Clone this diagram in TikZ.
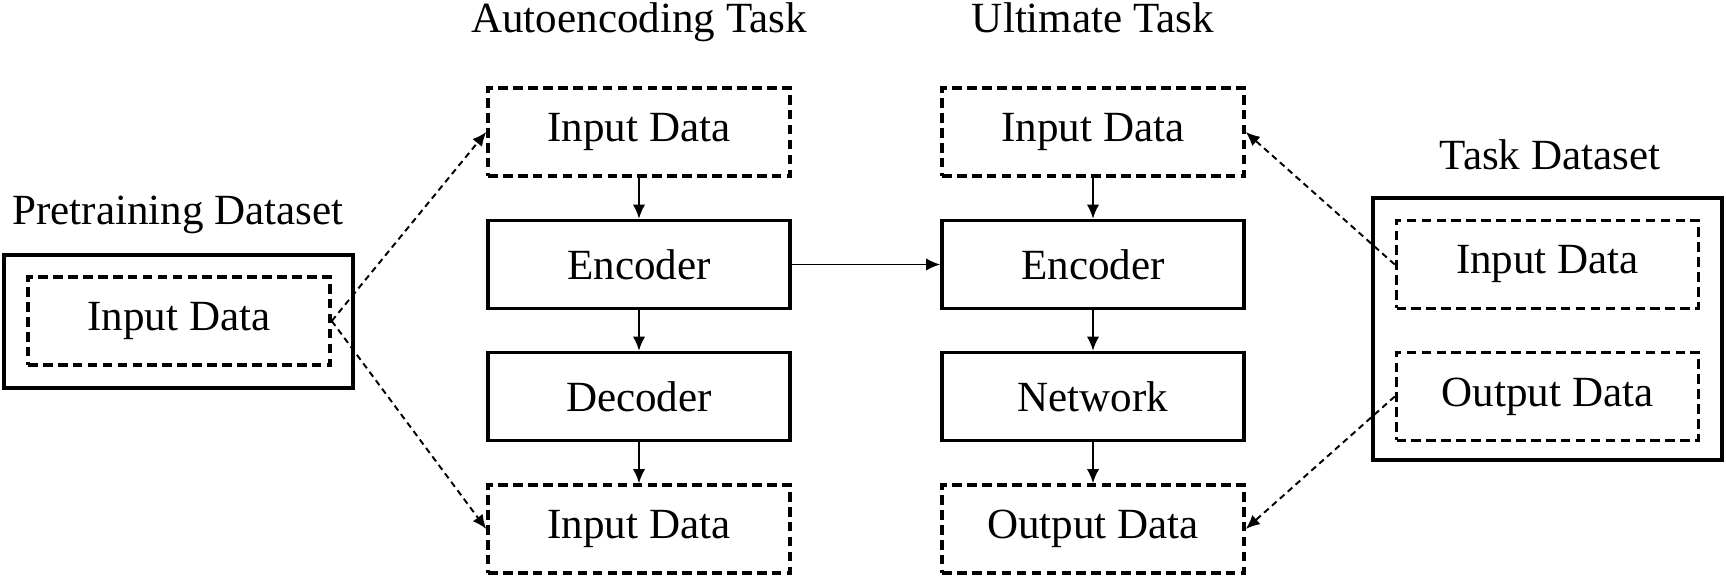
\documentclass[tikz,border=0pt]{standalone}
\usepackage{fontspec}
\setmainfont{Liberation Serif}
\usetikzlibrary{arrows.meta}
\begin{document}
\begin{tikzpicture}[
  font=\fontsize{24.5}{29}\selectfont,
  solidbox/.style={draw,line width=2pt,minimum width=6.04cm,minimum height=1.76cm,inner sep=0},
  dashbox/.style={solidbox,dash pattern=on 5.5pt off 3pt},
  flow/.style={line width=1.1pt,-{Latex[length=8pt,width=7pt]}},
  link/.style={flow,dash pattern=on 3.5pt off 2.5pt}]
  \useasboundingbox (0,0) rectangle (34.52cm, 11.56cm);

  % titles
  \node at(3.56cm, 7.06cm) [anchor=base](pretitle){Pretraining Dataset};
  \node at(12.78cm, 10.9cm) [anchor=base](autotitle){Autoencoding Task};
  \node at(21.86cm, 10.9cm) [anchor=base](ulttitle){Ultimate Task};
  \node at(31cm, 8.16cm) [anchor=base](tasktitle){Task Dataset};

  % pretraining dataset
  \node at(3.57cm, 5.13cm) [draw,line width=2pt,minimum width=6.98cm,minimum height=2.66cm](preset){};
  \node at(3.58cm, 5.14cm) [dashbox](preinput){Input Data};

  % autoencoding task
  \node at(12.78cm, 8.92cm) [dashbox](autoin){Input Data};
  \node at(12.78cm, 6.27cm) [solidbox](autoenc){Encoder};
  \node at(12.78cm, 3.63cm) [solidbox](autodec){Decoder};
  \node at(12.78cm, .98cm) [dashbox](autoout){Input Data};

  % ultimate task
  \node at(21.86cm, 8.92cm) [dashbox](ultin){Input Data};
  \node at(21.86cm, 6.27cm) [solidbox](ultenc){Encoder};
  \node at(21.86cm, 3.63cm) [solidbox](ultnet){Network};
  \node at(21.86cm, .98cm) [dashbox](ultout){Output Data};

  % task dataset
  \node at(30.95cm, 4.98cm) [draw,line width=2pt,minimum width=6.98cm,minimum height=5.24cm](taskset){};
  \node at(30.95cm, 6.27cm) [dashbox](taskin){Input Data};
  \node at(30.95cm, 3.63cm) [dashbox](taskout){Output Data};

  \draw[flow] (autoin) -- (autoenc);
  \draw[flow] (autoenc) -- (autodec);
  \draw[flow] (autodec) -- (autoout);
  \draw[flow] (ultin) -- (ultenc);
  \draw[flow] (ultenc) -- (ultnet);
  \draw[flow] (ultnet) -- (ultout);
  \draw[flow] (autoenc) -- (ultenc);

  \draw[link] (preinput.east) -- (autoin.west);
  \draw[link] (preinput.east) -- (autoout.west);
  \draw[link] (taskin.west) -- (ultin.east);
  \draw[link] (taskout.west) -- (ultout.east);
\end{tikzpicture}
\end{document}
